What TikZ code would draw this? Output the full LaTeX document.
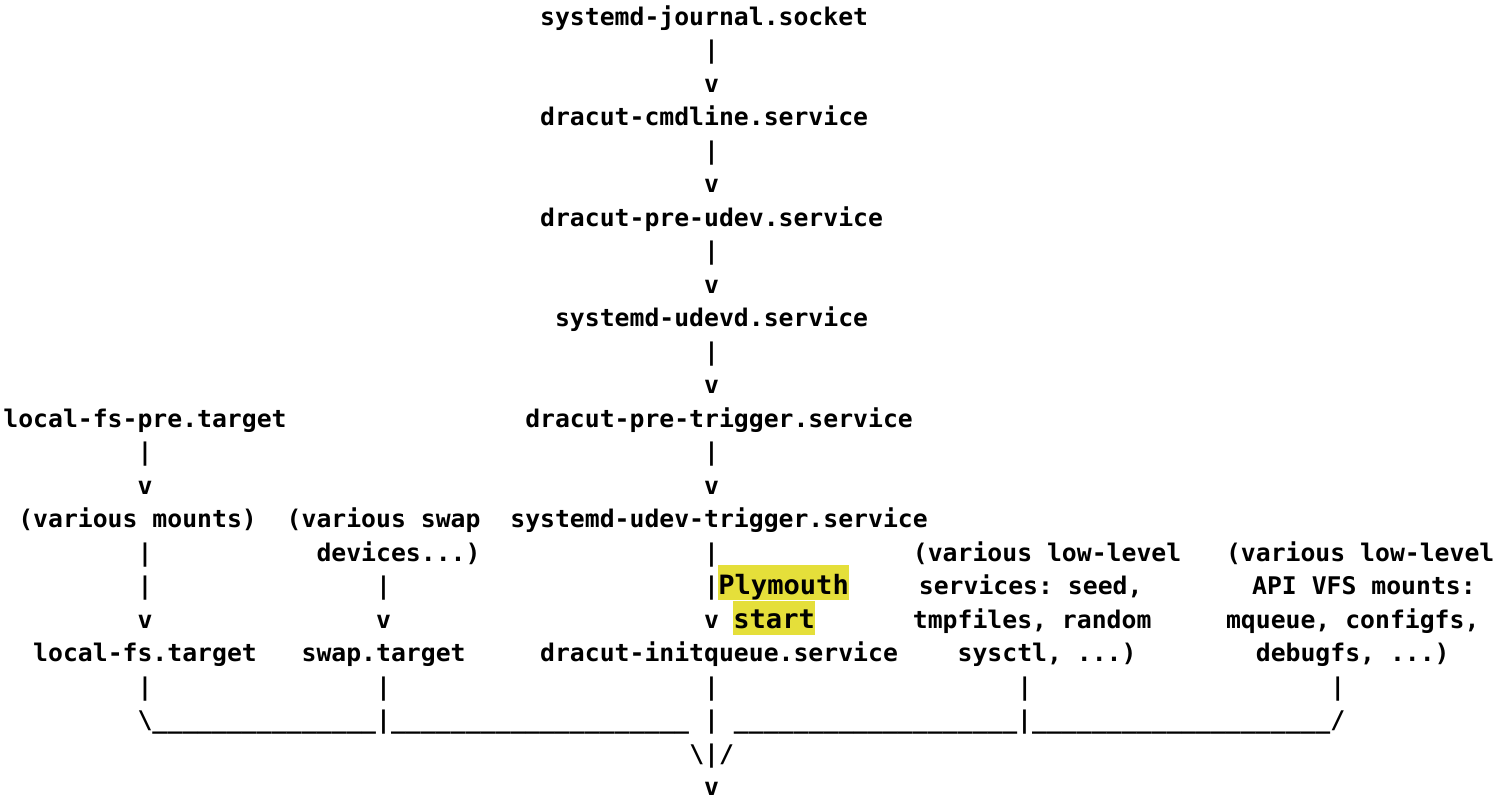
\documentclass[tikz,border=0pt]{standalone}
\usepackage{fontspec}
\newfontfamily\asciifont[FakeStretch=1.019]{DejaVu Sans Mono}
\definecolor{hlyellow}{RGB}{229,223,58}
\newcommand\spc{\phantom{x}}
\newcommand\ufive{\_\_\_\_\_}
\tikzset{
  asc/.style={anchor=base west, inner sep=0pt, outer sep=0pt,
    font=\fontsize{24.3}{33.52}\selectfont\asciifont\bfseries, text=black},
  hlbox/.style={anchor=base west, inner xsep=0pt, inner ysep=0pt, outer sep=0pt,
    fill=hlyellow, font=\fontsize{26.6}{30}\selectfont\asciifont\bfseries, text=black}
}
\newcommand\T[4]{\node[asc] (#1) at ({3.4+14.91*(#2)},{25+33.52*(#3)}) {#4};}
\begin{document}
\begin{tikzpicture}[x=1pt,y=-1pt]
\fill[white] (0,0) rectangle (1500,801);
\useasboundingbox (0,0) rectangle (1500,801);
% main chain
\T{jsock}{36}{0}{systemd-journal.socket}
\T{p1}{47}{1}{|}
\T{v1}{47}{2}{v}
\T{cmdl}{36}{3}{dracut-cmdline.service}
\T{p2}{47}{4}{|}
\T{v2}{47}{5}{v}
\T{preudev}{36}{6}{dracut-pre-udev.service}
\T{p3}{47}{7}{|}
\T{v3}{47}{8}{v}
\T{udevd}{37}{9}{systemd-udevd.service}
\T{p4}{47}{10}{|}
\T{v4}{47}{11}{v}
\T{lfspre}{0}{12}{local-fs-pre.target}
\T{pretrig}{35}{12}{dracut-pre-trigger.service}
\T{p5}{9}{13}{|}
\T{p6}{47}{13}{|}
\T{v5}{9}{14}{v}
\T{v6}{47}{14}{v}
\T{mounts}{1}{15}{(various\spc mounts)}
\T{swapa}{19}{15}{(various\spc swap}
\T{udevtrig}{34}{15}{systemd-udev-trigger.service}
\T{p7}{9}{16}{|}
\T{swapb}{21}{16}{devices...)}
\T{p8}{47}{16}{|}
\T{lowa}{61}{16}{(various\spc low-level}
\T{apia}{82}{16}{(various\spc low-level}
\T{p9}{9}{17}{|}
\T{p10}{25}{17}{|}
\T{p11}{47}{17}{|}
\node[hlbox, text height=29.8pt, text depth=5.2pt] (plym) at (718.3,{25+33.52*17}) {Plymouth};
\T{lowb}{61.4}{17}{services:\spc seed,}
\T{apib}{83.75}{17}{API\spc VFS\spc mounts:}
\T{v7}{9}{18}{v}
\T{v8}{25}{18}{v}
\T{v9}{47}{18}{v}
\node[hlbox, text height=27.7pt, text depth=6.6pt] (pstart) at (733.3,{25+33.52*18}) {start};
\T{lowc}{61}{18}{tmpfiles,\spc random}
\T{apic}{82}{18}{mqueue,\spc configfs,}
\T{lfs}{2}{19}{local-fs.target}
\T{swapt}{20}{19}{swap.target}
\T{initq}{36}{19}{dracut-initqueue.service}
\T{lowd}{64}{19}{sysctl,\spc ...)}
\T{apid}{84}{19}{debugfs,\spc ...)}
\T{p12}{9}{20}{|}
\T{p13}{25}{20}{|}
\T{p14}{47}{20}{|}
\T{p15}{68}{20}{|}
\T{p16}{89}{20}{|}
\T{joinl}{9}{21}{\textbackslash\ufive\ufive\ufive|\ufive\ufive\ufive\ufive}
\T{p17}{47}{21}{|}
\T{joinr}{49}{21}{\ufive\ufive\ufive\_\_\_\_|\ufive\ufive\ufive\ufive/}
\T{merge}{46}{22}{\textbackslash|/}
\T{vend}{47}{23}{v}
\end{tikzpicture}
\end{document}
